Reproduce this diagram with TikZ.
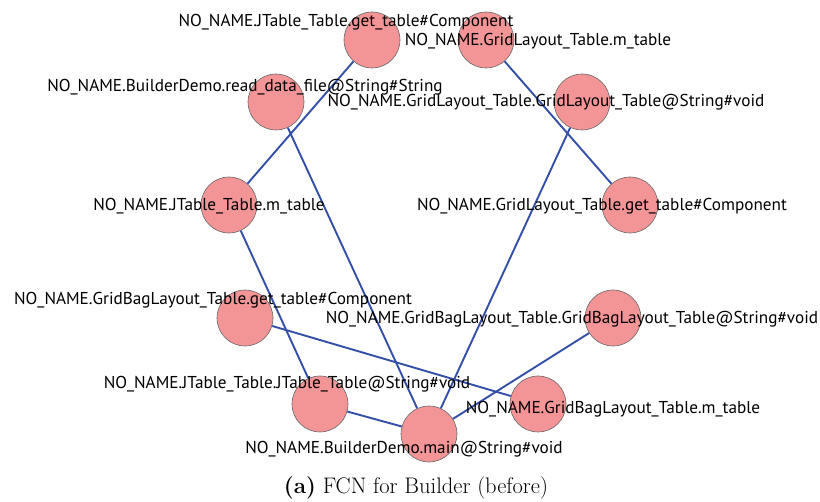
\documentclass[tikz,border=0pt]{standalone}
\usepackage{fontspec}
\usepackage{tikz}
\newfontfamily\labelfont{PT Sans}
\definecolor{nodepink}{RGB}{243,149,150}
\definecolor{edgeblue}{RGB}{52,79,168}

\begin{document}
\begin{tikzpicture}[x = 1pt, y = -1pt,
                    fcn/.style     = {circle, minimum size=56pt, inner sep=0pt,
                                      fill=nodepink, draw=black!60, line width=0.6pt},
                    fcnlink/.style = {draw=edgeblue, line width=1.9pt},
                    fcntext/.style = {inner sep=0pt, font=\labelfont\fontsize{17.2}{18}\selectfont}]

    \useasboundingbox (0,0) rectangle (820,502);

    % methods and fields
    \node[fcn] (jgettable)   at (372,40)  {};
    \node[fcn] (gmtable)     at (486,40)  {};
    \node[fcn] (readdata)    at (276,102) {};
    \node[fcn] (gctor)       at (582,102) {};
    \node[fcn] (jmtable)     at (229,205) {};
    \node[fcn] (ggettable)   at (630,205) {};
    \node[fcn] (gbgettable)  at (245,318) {};
    \node[fcn] (gbctor)      at (613,318) {};
    \node[fcn] (jctor)       at (320,404) {};
    \node[fcn] (gbmtable)    at (538,404) {};
    \node[fcn] (main)        at (429,434) {};

    \path[fcnlink] (jgettable) -- (jmtable);
    \path[fcnlink] (gmtable)   -- (ggettable);
    \path[fcnlink] (readdata)  -- (main);
    \path[fcnlink] (gctor)     -- (main);
    \path[fcnlink] (jmtable)   -- (jctor);
    \path[fcnlink] (gbgettable) -- (gbmtable);
    \path[fcnlink] (gbctor)    -- (main);
    \path[fcnlink] (jctor)     -- (main);

    % labels
    \node[fcntext] (ljgettable)  at (346,22)  {NO\_NAME.JTable\_Table.get\_table\#Component};
    \node[fcntext] (lgmtable)    at (538,41)  {NO\_NAME.GridLayout\_Table.m\_table};
    \node[fcntext] (lreaddata)   at (245,87)  {NO\_NAME.BuilderDemo.read\_data\_file@String\#String};
    \node[fcntext] (lgctor)      at (546,102) {NO\_NAME.GridLayout\_Table.GridLayout\_Table@String\#void};
    \node[fcntext] (ljmtable)    at (209,206) {NO\_NAME.JTable\_Table.m\_table};
    \node[fcntext] (lggettable)  at (602,206) {NO\_NAME.GridLayout\_Table.get\_table\#Component};
    \node[fcntext] (lgbgettable) at (213,300) {NO\_NAME.GridBagLayout\_Table.get\_table\#Component};
    \node[fcntext] (lgbctor)     at (572,319) {NO\_NAME.GridBagLayout\_Table.GridBagLayout\_Table@String\#void};
    \node[fcntext] (ljctor)      at (287,384) {NO\_NAME.JTable\_Table.JTable\_Table@String\#void};
    \node[fcntext] (lgbmtable)   at (613,409) {NO\_NAME.GridBagLayout\_Table.m\_table};
    \node[fcntext] (lmain)       at (404,449) {NO\_NAME.BuilderDemo.main@String\#void};

    \node[font=\fontsize{22.5}{24}\selectfont] (caption) at (416,488) {\textbf{(a)} FCN for Builder (before)};
\end{tikzpicture}
\end{document}
